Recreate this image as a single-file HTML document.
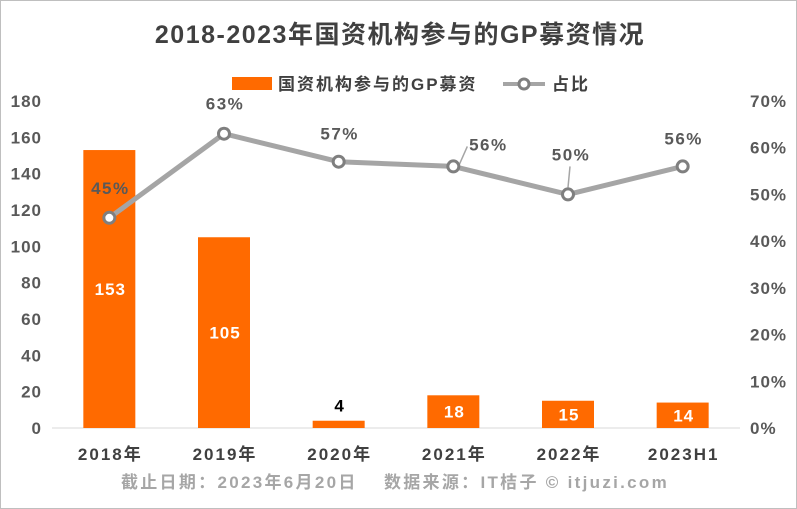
<!DOCTYPE html>
<html><head><meta charset="utf-8"><style>
body{margin:0;background:#fff;}
svg{display:block;font-family:"Liberation Sans","Noto Sans CJK SC",sans-serif;}
</style></head><body>
<svg id="chart" width="797" height="509" viewBox="0 0 797 509">
<rect x="0.5" y="0.5" width="796" height="508" fill="#fff" stroke="#bfbfbf"/>
<text x="400" y="43" text-anchor="middle" font-size="25" font-weight="bold" letter-spacing="1.5" fill="#404040">2018-2023年国资机构参与的GP募资情况</text>
<g>
<rect x="232" y="77" width="40" height="13" fill="#ff6a00"/>
<text x="278" y="90" font-size="17" font-weight="bold" letter-spacing="2" fill="#404040">国资机构参与的GP募资</text>
<line x1="503" y1="84" x2="545" y2="84" stroke="#a5a5a5" stroke-width="4"/>
<circle cx="524" cy="84" r="5" fill="#fff" stroke="#7f7f7f" stroke-width="3"/>
<text x="552" y="90" font-size="17" font-weight="bold" letter-spacing="2" fill="#404040">占比</text>
</g>
<g id="axes"></g><g id="bars"></g><g id="line"></g>
<text x="395" y="488" text-anchor="middle" font-size="17" font-weight="bold" letter-spacing="2.3" fill="#a6a6a6">截止日期：2023年6月20日　 数据来源：IT桔子 © itjuzi.com</text>
</svg>
<script>
const categories=["2018年","2019年","2020年","2021年","2022年","2023H1"];
const counts=[153,105,4,18,15,14];
const shares=[45,63,57,56,50,56];
const leftTicks=[0,20,40,60,80,100,120,140,160,180];
const rightTicks=[0,10,20,30,40,50,60,70];
const NS="http://www.w3.org/2000/svg";
const x0=52,x1=740,yBase=428,yTop=101;
const step=(x1-x0)/categories.length;
function xPos(i){return x0+step*(i+0.5);}
function yL(v){return yBase-(v/180)*(yBase-yTop);}
function yR(v){return yBase-(v/70)*(yBase-yTop);}
function mk(tag,attrs,parent,text){const e=document.createElementNS(NS,tag);for(const k in attrs)e.setAttribute(k,attrs[k]);if(text!==undefined)e.textContent=text;parent.appendChild(e);return e;}
const axes=document.getElementById('axes'),bars=document.getElementById('bars'),line=document.getElementById('line');
const base=mk('line',{x1:x0,x2:x1,y1:yBase,y2:yBase,stroke:'#d9d9d9','stroke-width':1},axes);


leftTicks.forEach(v=>{const t=mk('text',{x:42,y:yL(v)+6,'text-anchor':'end','font-size':17,'font-weight':'bold','letter-spacing':1,fill:'#595959'},axes,v);

});
rightTicks.forEach(v=>{const t=mk('text',{x:750,y:yR(v)+6,'font-size':17,'font-weight':'bold','letter-spacing':1,fill:'#595959'},axes,v+'%');

});
categories.forEach((c,i)=>{const t=mk('text',{x:xPos(i)+1,y:460,'text-anchor':'middle','font-size':17,'font-weight':'bold','letter-spacing':2,fill:'#404040'},axes,c);

});
const bw=52;
counts.forEach((v,i)=>{const y=yL(v);
const r=mk('rect',{x:xPos(i)-bw/2,y:y,width:bw,height:yBase-y,fill:'#ff6a00'},bars);


const inside=(yBase-y)>22;
const ly=(yBase-y)>60?(y+yBase)/2+6:(inside?y+(yBase-y)/2+6:y-9);
const t=mk('text',{x:xPos(i)+1,y:ly,'text-anchor':'middle','font-size':17,'font-weight':'bold','letter-spacing':1,fill:inside?'#fff':'#000'},bars,v);

});
const pts=shares.map((v,i)=>[xPos(i),yR(v)]);
const pl=mk('polyline',{points:pts.map(p=>p.join(',')).join(' '),fill:'none',stroke:'#a5a5a5','stroke-width':5,'stroke-linejoin':'round'},line);


const offs=[[0,-30],[0,-30],[0,-28],[34,-22],[2,-40],[0,-28]];
pts.forEach((p,i)=>{
const [dx,dy]=offs[i];
if(i===3){const l=mk('line',{x1:p[0]+6,y1:p[1]-2,x2:p[0]+dx-20,y2:p[1]+dy+2,stroke:'#a5a5a5','stroke-width':1.5},line);

}
if(i===4){const l=mk('line',{x1:p[0],y1:p[1]-7,x2:p[0]+2,y2:p[1]+dy+12,stroke:'#a5a5a5','stroke-width':1.5},line);

}
const c=mk('circle',{cx:p[0],cy:p[1],r:5.5,fill:'#fff',stroke:'#7f7f7f','stroke-width':3},line);


const t=mk('text',{x:p[0]+dx+1,y:p[1]+dy+6,'text-anchor':'middle','font-size':17,'font-weight':'bold','letter-spacing':1.5,fill:'#595959'},line,shares[i]+'%');

});
</script>
</body></html>
